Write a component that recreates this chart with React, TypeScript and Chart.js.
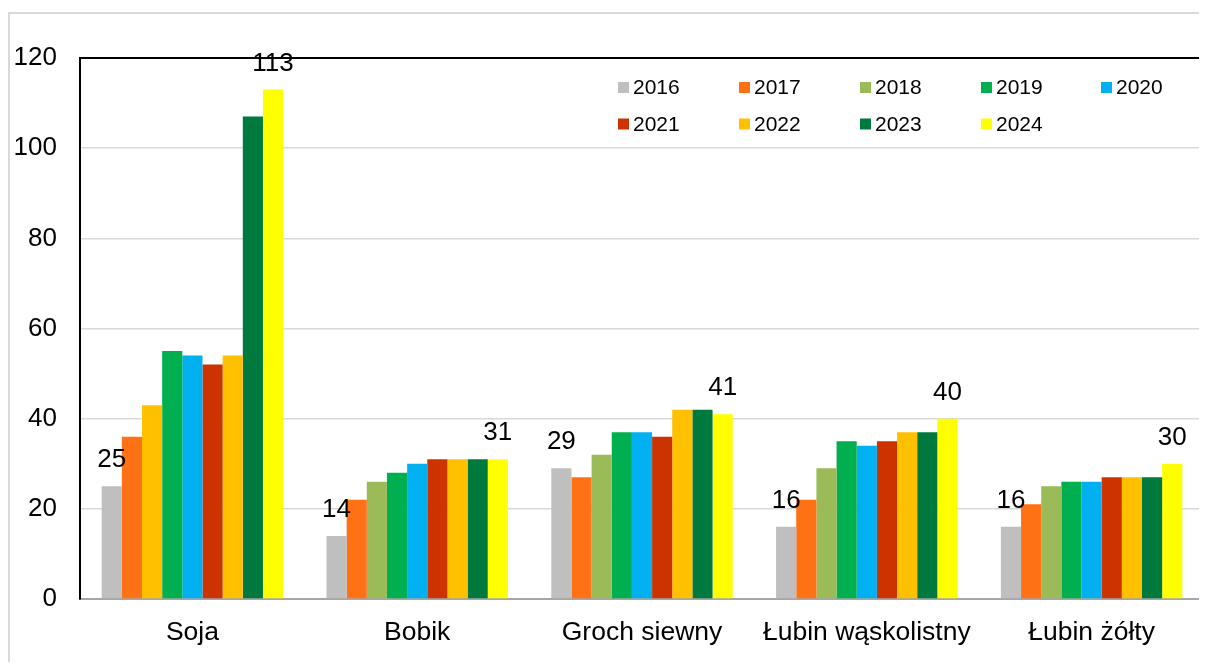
import React, { useEffect, useRef } from "react";
import { Chart, registerables } from "chart.js";

Chart.register(...registerables);

const categories = ["Soja", "Bobik", "Groch siewny", "Łubin wąskolistny", "Łubin żółty"];
const years = ["2016", "2017", "2018", "2019", "2020", "2021", "2022", "2023", "2024"];
const v2016 = [25, 14, 29, 16, 16];
const v2017 = [36, 22, 27, 22, 21];
const v2018 = [43, 26, 32, 29, 25];
const v2019 = [55, 28, 37, 35, 26];
const v2020 = [54, 30, 37, 34, 26];
const v2021 = [52, 31, 36, 35, 27];
const v2022 = [54, 31, 42, 37, 27];
const v2023 = [107, 31, 42, 37, 27];
const v2024 = [113, 31, 41, 40, 30];
const yTicks = [0, 20, 40, 60, 80, 100, 120];

const seriesValues = [v2016, v2017, v2018, v2019, v2020, v2021, v2022, v2023, v2024];
const colors = ["#BFBFBF", "#FF7115", "#9BBB59", "#00B050", "#00B0F0", "#CC3300", "#FFC000", "#00793F", "#FFFF00"];
// Soja 2018 bar is drawn in the reference with the 2022 gold colour
const soja2018Colors = ["#FFC000", colors[2], colors[2], colors[2], colors[2]];

const FONT = "'Liberation Sans', Arial, sans-serif";

const decorPlugin = {
  id: "decor",
  beforeDraw(chart: any) {
    const { ctx, width, height } = chart;
    ctx.save();
    ctx.fillStyle = "#ffffff";
    ctx.fillRect(0, 0, width, height);
    ctx.strokeStyle = "#d9d9d9";
    ctx.lineWidth = 2;
    ctx.beginPath();
    ctx.moveTo(1, height + 10);
    ctx.lineTo(1, 5);
    ctx.lineTo(width + 10, 5);
    ctx.stroke();
    ctx.restore();
  },
  afterDatasetsDraw(chart: any) {
    const { ctx, chartArea } = chart;
    ctx.save();
    // top and right black border
    ctx.strokeStyle = "#000000";
    ctx.lineWidth = 2;
    ctx.beginPath();
    ctx.moveTo(chartArea.left, chartArea.top);
    ctx.lineTo(chartArea.right, chartArea.top);
    ctx.lineTo(chartArea.right, chartArea.bottom);
    ctx.stroke();

    // data labels on first and last series
    ctx.fillStyle = "#000000";
    ctx.font = `26px ${FONT}`;
    ctx.textAlign = "center";
    ctx.textBaseline = "middle";
    [0, years.length - 1].forEach((di) => {
      const meta = chart.getDatasetMeta(di);
      meta.data.forEach((bar: any, i: number) => {
        const val = chart.data.datasets[di].data[i];
        ctx.fillText(String(val), bar.x, bar.y - 26);
      });
    });

    // legend inside plot area
    ctx.font = `21px ${FONT}`;
    ctx.textAlign = "left";
    const colX = [538, 659, 780, 901, 1021];
    const rowY = [29.5, 66];
    years.forEach((y, i) => {
      const col = i % 5;
      const row = Math.floor(i / 5);
      const x = chartArea.left + colX[col];
      const cy = chartArea.top + rowY[row];
      ctx.fillStyle = colors[i];
      ctx.fillRect(x, cy - 5.5, 11, 11);
      ctx.fillStyle = "#000000";
      ctx.fillText(y, x + 15, cy + 1);
    });
    ctx.restore();
  },
};

export default function App() {
  const ref = useRef<HTMLCanvasElement>(null);
  useEffect(() => {
    document.body.style.overflow = "hidden";
    const datasets = years.map((y, i) => ({
      label: y,
      data: seriesValues[i],
      backgroundColor: i === 2 ? soja2018Colors : colors[i],
      borderWidth: 0,
      categoryPercentage: 0.807,
      barPercentage: 1.0,
    }));
    const chart = new Chart(ref.current!, {
      type: "bar",
      data: { labels: categories, datasets },
      options: {
        animation: false,
        responsive: false,
        maintainAspectRatio: false,
        layout: { padding: { top: 50, right: 3, left: 0, bottom: 0 } },
        plugins: { legend: { display: false }, tooltip: { enabled: false } },
        scales: {
          x: {
            grid: { display: false, drawTicks: false },
            border: { color: "#a6a6a6", width: 2 },
            ticks: { color: "#000", font: { family: FONT, size: 26.5 }, padding: 18, maxRotation: 0, autoSkip: false },
            afterFit(scale: any) {
              scale.height = 63;
            },
          },
          y: {
            min: 0,
            max: 120,
            afterBuildTicks(scale: any) {
              scale.ticks = yTicks.map((v) => ({ value: v }));
            },
            grid: {
              color: (c: any) => (c.tick && c.tick.value === 0 ? "#a6a6a6" : "#d9d9d9"),
              lineWidth: 1.5,
              drawTicks: false,
            },
            border: { color: "#000000", width: 2 },
            ticks: { color: "#000", font: { family: FONT, size: 26 }, padding: 23 },
            afterFit(scale: any) {
              scale.width = 72;
            },
          },
        },
      },
      plugins: [decorPlugin],
    });
    return () => chart.destroy();
  }, []);
  return <canvas ref={ref} width={1199} height={654} style={{ display: "block" }} />;
}
